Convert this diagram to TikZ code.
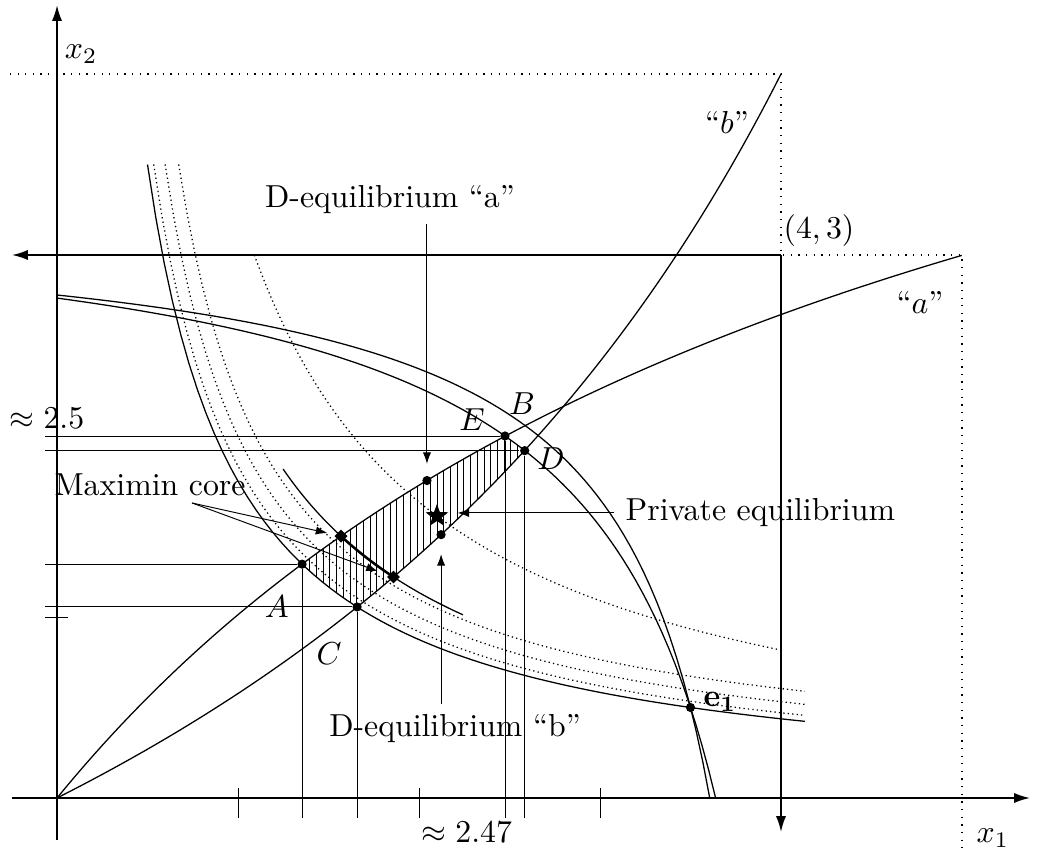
\documentclass[tikz,border=0pt]{standalone}
\usepackage{xcolor}
\usepackage{tikz}
\usepackage{amsmath}
\usepackage{amssymb}
\usetikzlibrary{arrows.meta, positioning, shapes.geometric, calc}

% offer curves of the two types and the two indifference curves of trader 2
\newcommand{\offera}{plot[domain=0:5, samples=100] (\x,{5.88*\x/(\x+4.806)})}
\newcommand{\offerb}{plot[domain=0:4, samples=100] (\x,{4.098*\x/(8.098-\x)})}
\newcommand{\indiffhi}{plot[domain=0:3.606, samples=100] (\x,{3.2248-1.8654/(4.1846-\x)})}
\newcommand{\indifflo}{plot[domain=0:3.6386, samples=100] (\x,{3.3647-2.6716/(4.4326-\x)})}

\begin{document}
\begin{tikzpicture}[x=2cm, y=2cm,
    axis/.style={semithick, -{Latex[length=5pt,width=3.2pt]}},
    guide/.style={line width=0.3pt},
    lblarrow/.style={line width=0.3pt, -{Latex[length=3.6pt,width=2.6pt]}},
    dot/.style={circle, fill, inner sep=0pt, minimum size=2.9pt},
    dmd/.style={diamond, fill, inner sep=0pt, minimum size=4.2pt}]
    \useasboundingbox (-0.315,-0.298) rectangle (5.420,4.409);

    % points
    \node[dot] (A) at (1.354,1.292) {};
    \node[dot] (C) at (1.658,1.0555) {};
    \node[dot] (E) at (2.475,2.0) {};
    \node[dot] (D) at (2.584,1.919) {};
    \node[dot] (e1) at (3.5,0.5) {};
    \node[dot] (Da) at (2.044,1.754) {};
    \node[dot] (Db) at (2.122,1.455) {};
    \node[dmd] (mc1) at (1.569,1.447) {};
    \node[dmd] (mc2) at (1.859,1.221) {};
    \node[star, star points=5, star point ratio=2.4, fill, inner sep=0pt, minimum size=7.5pt] (peq) at (2.099,1.558) {};

    % axes of both traders
    \coordinate (O) at (0,0);
    \coordinate (O2) at (4,3);
    \coordinate (yl) at (-0.066,0);
    \coordinate (xl) at (0,-0.11);
    \draw[axis] (-0.249,0) -- (5.376,0);
    \draw[axis] (0,-0.232) -- (0,4.381);
    \draw[axis] (O2) -- (-0.249,3);
    \draw[axis] (O2) -- (4,-0.188);
    \draw[dotted] (-0.26,4) -- (4,4) -- (O2) -- (5,3) -- (5,-0.3);
    \foreach \x in {1,2,3} \draw[guide] (\x,0.055) -- (\x,-0.11);
    \foreach \y in {1,2} \draw[guide] (-0.066,\y) -- (0.061,\y);
    \foreach \p in {A,C,E,D} \draw[guide] (yl |- \p) -- (\p) -- (\p |- xl);

    % hatched set
    \begin{scope}
        \clip \offera -- (5,0) -- cycle;
        \clip \offerb -- (0,4) -- cycle;
        \clip \indifflo -- (0,0) -- cycle;
        \clip plot[domain=0.5:4.133, samples=80] (\x,{1.75/\x}) -- (4.133,3.5) -- cycle;
        \foreach \i in {0,...,34} \draw[guide] ({1.36+0.037*\i},0.9) -- ++(0,1.2);
    \end{scope}

    % curves
    \draw \offera;
    \draw \offerb;
    \draw \indiffhi;
    \draw \indifflo;
    \draw plot[domain=0.5:4.133, samples=80] (\x,{1.75/\x});
    \foreach \d in {0.03,0.085,0.15} {
        \pgfmathsetmacro{\tlo}{1.75/(3.5-\d)}
        \pgfmathsetmacro{\thi}{4.133-\d}
        \draw[densely dotted] plot[domain=\tlo:\thi, samples=80] ({\x+\d},{1.75/\x+\d});
    }
    \draw[densely dotted] plot[domain=1.09:4, samples=80] (\x,{3.27/\x});
    \draw plot[domain=1.249:2.243, samples=40] (\x,{2.27/\x});
    \draw[thick] plot[domain=1.569:1.859, samples=20] (\x,{2.27/\x});

    % labels
    \node (mclbl) at (0.514,1.732) {Maximin core};
    \coordinate (mcfoot) at (0.746,1.630);
    \draw[lblarrow, shorten >=2.5pt] (mcfoot) -- (mc1);
    \draw[lblarrow, shorten >=3.5pt] (mcfoot) -- (mc2);
    \node (lblDa) at (1.840,3.309) {D-equilibrium ``a''};
    \draw[lblarrow, shorten >=3.6pt] (lblDa.south -| Da) -- (Da);
    \node[anchor=west] (lblpeq) at (3.08,1.575) {Private equilibrium};
    \draw[lblarrow, shorten >=6.5pt] (lblpeq.west) -- (lblpeq.west -| peq);
    \node (lblDb) at (2.199,0.381) {D-equilibrium ``b''};
    \draw[lblarrow, shorten >=4.5pt] (lblDb.north -| Db) -- (Db);

    \node (lA) at (1.215,1.055) {$A$};
    \node (lC) at (1.503,0.796) {$C$};
    \node (lE) at (2.293,2.088) {$E$};
    \node (lB) at (2.569,2.177) {$B$};
    \node (lD) at (2.729,1.873) {$D$};
    \node (le1) at (3.663,0.530) {$\mathbf{e_1}$};
    \node (lb) at (3.702,3.735) {``$b$''};
    \node (la) at (4.768,2.740) {``$a$''};
    \node (lO2) at (4.210,3.133) {$(4,3)$};
    \node (lx2) at (0.133,4.110) {$x_2$};
    \node (lx1) at (5.171,-0.221) {$x_1$};
    \node (ly) at (-0.055,2.099) {$\approx 2.5$};
    \node (lx) at (2.265,-0.188) {$\approx 2.47$};
\end{tikzpicture}
\end{document}
